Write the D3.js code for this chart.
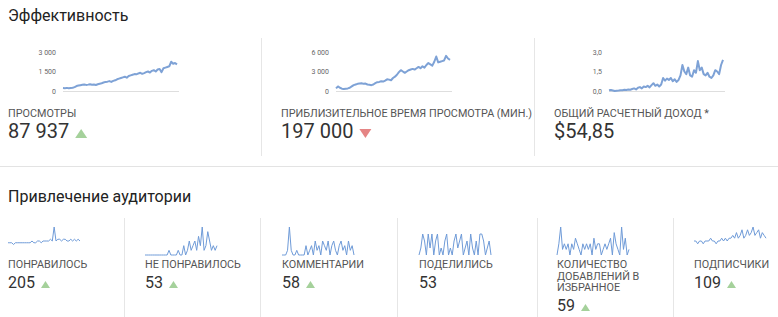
<!DOCTYPE html>
<html>
<head>
<meta charset="utf-8">
<script src="https://cdn.jsdelivr.net/npm/d3@7"></script>
<style>
  body { margin: 0; background: #fff; }
  svg { display: block; font-family: Roboto, Arial, sans-serif; }
</style>
</head>
<body>
<div class="chart"></div>
<script>
var width = 778, height = 317;

// top section data
var viewsData = [230,220,240,210,230,250,300,380,420,450,480,500,470,490,520,480,500,460,520,560,
  600,650,700,720,760,700,780,820,900,950,1000,1050,1100,1020,1150,1200,1250,1300,1280,1350,
  1400,1320,1380,1450,1500,1420,1550,1600,1500,1650,1700,1450,1750,1800,1850,1900,2250,2100,2150,2050];
var watchData = [400,700,500,350,300,350,400,500,700,900,1000,1100,1150,1200,1100,1150,1000,950,900,1000,
  1200,1350,1400,1500,1450,1600,1800,1750,1650,2000,2200,2500,2900,3200,3000,2800,3000,3200,3300,3400,
  3300,3500,3700,3500,3800,3600,4000,4300,4100,3900,4500,5300,4400,4500,4600,4700,5400,5000,4800];
var revenueData = [0.05,0.08,0.04,0.0,0.02,0.03,0.05,0.06,0.1,0.08,0.12,0.1,0.15,0.2,0.12,0.25,0.3,0.2,0.35,0.3,
  0.4,0.28,0.45,0.6,0.4,0.5,0.35,0.5,1.0,0.8,0.95,0.85,1.0,0.75,0.9,0.7,0.85,1.2,2.0,1.5,
  1.3,1.8,1.2,1.1,1.6,1.4,2.3,1.6,1.8,1.3,1.2,1.4,1.1,1.0,1.2,1.6,1.5,1.3,2.0,2.4];

var topTickValues = [[0, 1500, 3000], [0, 3000, 6000], [0, 1.5, 3]];
var topTickLabels = [["0", "1 500", "3 000"], ["0", "3 000", "6 000"], ["0,0", "1,5", "3,0"]];
var topLabels = ["ПРОСМОТРЫ", "ПРИБЛИЗИТЕЛЬНОЕ ВРЕМЯ ПРОСМОТРА (МИН.)", "ОБЩИЙ РАСЧЕТНЫЙ ДОХОД *"];
var topValues = ["87 937", "197 000", "$54,85"];
var topTrends = ["up", "down", null];

// bottom section data
var likesData = [7,7,7,6,7,7,7,7,7,7,7,7,7,8,7,7,8,8,7,8,8,8,8,9,8,16,8,9,9,8,9,9,8,8,9,8,9,8,9,8];
var dislikesData = [0,0,0,0,0,0,0,0,0,0,0,0,0,1,0,0,0,0,1,0,0,2,0,1,3,1,2,3,1,4,2,6,1,2,5,3,1,2,1,2];
var commentsData = [0,0,0,1,6,1,0,0,1,0,0,0,0,2,0,1,2,0,3,1,2,0,3,2,1,3,0,2,3,1,0,2,3,1,2,0,3,1,2,0];
var sharesData = [0,1,3,2,0,3,1,3,0,2,3,0,1,0,2,3,0,1,0,2,3,1,2,3,0,1,2,0,3,1,0,2,0,3,3,2,0,1,2,0];
var favoritesData = [0,2,5,1,2,1,2,0,2,1,3,2,1,0,2,1,2,1,2,0,3,1,2,2,0,1,2,1,2,3,0,4,2,1,0,5,1,3,0,1];
var subscribersData = [5,5,4,5,5,4,5,5,5,6,5,5,4,5,5,6,5,6,5,6,6,7,6,8,6,7,9,6,7,9,7,8,10,7,8,9,6,8,7,6];

var bottomLabels = [["ПОНРАВИЛОСЬ"], ["НЕ ПОНРАВИЛОСЬ"], ["КОММЕНТАРИИ"], ["ПОДЕЛИЛИСЬ"],
  ["КОЛИЧЕСТВО", "ДОБАВЛЕНИЙ В", "ИЗБРАННОЕ"], ["ПОДПИСЧИКИ"]];
var bottomValues = ["205", "53", "58", "53", "59", "109"];
var bottomTrends = ["up", "up", "up", null, "up", "up"];

var topSeries = [viewsData, watchData, revenueData];
var bottomSeries = [likesData, dislikesData, commentsData, sharesData, favoritesData, subscribersData];

var svg = d3.select(".chart").append("svg")
    .attr("width", width)
    .attr("height", height);

// titles
svg.append("text").attr("x", 8).attr("y", 21)
  .attr("font-size", 16).attr("fill", "#222").text("Эффективность");
svg.append("text").attr("x", 8).attr("y", 202)
  .attr("font-size", 16).attr("fill", "#222").text("Привлечение аудитории");

// separators
svg.append("line").attr("x1", 0).attr("x2", width).attr("y1", 166.5).attr("y2", 166.5)
  .attr("stroke", "#e3e3e3");
[261, 534].forEach(function(x) {
  svg.append("line").attr("x1", x + 0.5).attr("x2", x + 0.5).attr("y1", 38).attr("y2", 156)
    .attr("stroke", "#e6e6e6");
});
[124, 260, 397, 537, 673].forEach(function(x) {
  svg.append("line").attr("x1", x + 0.5).attr("x2", x + 0.5).attr("y1", 218).attr("y2", height)
    .attr("stroke", "#e6e6e6");
});

function triangle(g, x, base, w, h, dir) {
  var pts = dir == "up"
    ? [[x, base], [x + w, base], [x + w / 2, base - h]]
    : [[x, base - h], [x + w, base - h], [x + w / 2, base]];
  g.append("path")
    .attr("d", d3.line()(pts) + "Z")
    .attr("fill", dir == "up" ? "#a5d19b" : "#e58585");
}

// top cards
var topX = [8, 281, 554];
topSeries.forEach(function(data, i) {
  var g = svg.append("g").attr("transform", "translate(" + topX[i] + ",0)");
  var x = d3.scaleLinear().domain([0, data.length - 1]).range([55, 169]);
  var y = d3.scaleLinear().domain([0, topTickValues[i][2]]).range([91, 52]);

  g.append("line").attr("x1", 55).attr("x2", 171).attr("y1", 91.5).attr("y2", 91.5)
    .attr("stroke", "#dedede");

  var ax = g.append("g").attr("transform", "translate(55,0)")
    .call(d3.axisLeft(y).tickValues(topTickValues[i]).tickSize(0).tickPadding(7)
      .tickFormat(function(d, k) { return topTickLabels[i][k]; }));
  ax.select(".domain").remove();
  ax.selectAll("text").attr("font-size", 7).attr("fill", "#666")
    .attr("font-family", "Roboto, Arial, sans-serif");

  g.append("path").datum(data)
    .attr("fill", "none")
    .attr("stroke", "#7ea2d6")
    .attr("stroke-width", 2)
    .attr("stroke-linejoin", "round")
    .attr("d", d3.line().x(function(d, k) { return x(k); }).y(function(d) { return y(d); }));

  g.append("text").attr("x", 0).attr("y", 117)
    .attr("font-size", 10.8).attr("fill", "#555").text(topLabels[i]);
  var v = g.append("text").attr("x", 0).attr("y", 138)
    .attr("font-size", 20).attr("fill", "#333").text(topValues[i]);
  if (topTrends[i]) {
    var tw = v.node().getComputedTextLength();
    triangle(g, tw + 6, 138, 12, 9, topTrends[i]);
  }
});

// bottom cards
var botX = [8, 145, 282, 419, 557, 694];
bottomSeries.forEach(function(data, i) {
  var g = svg.append("g").attr("transform", "translate(" + botX[i] + ",0)");
  var x = d3.scaleLinear().domain([0, data.length - 1]).range([0, 72]);
  var y = d3.scaleLinear().domain([0, Math.max(4, d3.max(data))]).range([255, 227]);

  g.append("path").datum(data)
    .attr("fill", "none")
    .attr("stroke", "#6f9bd8")
    .attr("stroke-width", 1)
    .attr("d", d3.line().x(function(d, k) { return x(k); }).y(function(d) { return y(d); }));

  var lines = bottomLabels[i];
  lines.forEach(function(t, k) {
    g.append("text").attr("x", 0).attr("y", 268 + k * 11.5)
      .attr("font-size", 10.8).attr("fill", "#555").text(t);
  });
  var vy = 288 + (lines.length - 1) * 11.5;
  var v = g.append("text").attr("x", 0).attr("y", vy)
    .attr("font-size", 16).attr("fill", "#333").text(bottomValues[i]);
  if (bottomTrends[i]) {
    var tw = v.node().getComputedTextLength();
    triangle(g, tw + 6, vy, 9, 7, bottomTrends[i]);
  }
});
</script>
</body>
</html>
